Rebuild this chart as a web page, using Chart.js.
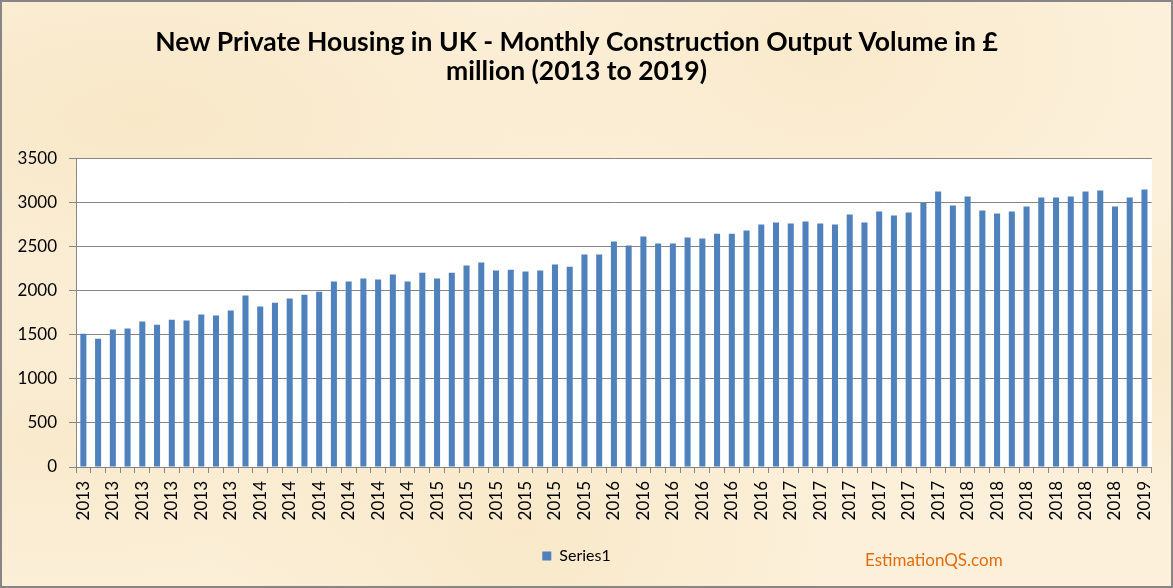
<!DOCTYPE html>
<html>
<head>
<meta charset="utf-8">
<script src="https://cdn.jsdelivr.net/npm/chart.js@4.4.1/dist/chart.umd.min.js"></script>
<style>
  html, body { margin: 0; padding: 0; }
  #wrap {
    position: relative;
    width: 1173px;
    height: 588px;
    overflow: hidden;
    background-color: #fcf0da;
    background-image:
      radial-gradient(ellipse at 12% 20%, rgba(245, 225, 185, 0.55), transparent 35%),
      radial-gradient(ellipse at 70% 10%, rgba(248, 230, 195, 0.6), transparent 30%),
      radial-gradient(ellipse at 45% 90%, rgba(246, 228, 190, 0.6), transparent 35%),
      radial-gradient(ellipse at 92% 60%, rgba(245, 226, 188, 0.5), transparent 30%),
      radial-gradient(ellipse at 5% 75%, rgba(247, 230, 196, 0.6), transparent 30%);
  }
  #frame {
    position: absolute;
    left: 0; top: 0; right: 0; bottom: 0;
    border: 2px solid #868686;
    pointer-events: none;
  }
  #site {
    position: absolute;
    left: 865px;
    top: 549px;
    font: 17px Lato, "Open Sans", sans-serif;
    color: #e46c0a;
  }
  canvas { position: absolute; left: 0; top: 0; }
</style>
</head>
<body>
<div id="wrap">
  <canvas id="barChart" width="1173" height="588"></canvas>
  <div id="site">EstimationQS.com</div>
  <div id="frame"></div>
</div>
<script>
// one label per month, Jan 2013 .. Jan 2019
const months = [
  "2013", "2013", "2013", "2013", "2013", "2013", "2013", "2013", "2013", "2013", "2013", "2013",
  "2014", "2014", "2014", "2014", "2014", "2014", "2014", "2014", "2014", "2014", "2014", "2014",
  "2015", "2015", "2015", "2015", "2015", "2015", "2015", "2015", "2015", "2015", "2015", "2015",
  "2016", "2016", "2016", "2016", "2016", "2016", "2016", "2016", "2016", "2016", "2016", "2016",
  "2017", "2017", "2017", "2017", "2017", "2017", "2017", "2017", "2017", "2017", "2017", "2017",
  "2018", "2018", "2018", "2018", "2018", "2018", "2018", "2018", "2018", "2018", "2018", "2018",
  "2019",
];

// output volume, £ million
const series1 = [
  1515, 1458, 1561, 1572, 1652, 1617, 1674, 1663, 1731, 1720, 1777, 1947,
  1822, 1867, 1913, 1958, 1992, 2106, 2106, 2140, 2129, 2186, 2106, 2208,
  2140, 2208, 2288, 2322, 2231, 2242, 2220, 2231, 2299, 2276, 2413, 2413,
  2561, 2515, 2617, 2538, 2538, 2606, 2595, 2651, 2651, 2686, 2754, 2776,
  2765, 2788, 2765, 2754, 2867, 2776, 2902, 2856, 2890, 3000, 3129, 2970,
  3072, 2913, 2879, 2902, 2958, 3061, 3061, 3072, 3129, 3140, 2958, 3061,
  3152,
];

const yTicks = [0, 500, 1000, 1500, 2000, 2500, 3000, 3500];

const titleLines = [
  "New Private Housing in UK - Monthly Construction Output Volume in £",
  "million (2013 to 2019)",
];

const gridGrey = "#868686";

// white plot area on top of the parchment background
const plotBackground = {
  id: "plotBackground",
  beforeDraw(chart) {
    const { ctx, chartArea } = chart;
    ctx.save();
    ctx.fillStyle = "#ffffff";
    ctx.fillRect(chartArea.left, chartArea.top, chartArea.right - chartArea.left, chartArea.bottom - chartArea.top);
    ctx.restore();
  },
};

const ctx = document.getElementById("barChart");

new Chart(ctx, {
  type: "bar",
  data: {
    labels: months,
    datasets: [
      {
        label: "Series1",
        data: series1,
        backgroundColor: "#4f81bd",
        borderWidth: 0,
        barPercentage: 0.41,
        categoryPercentage: 1,
      },
    ],
  },
  options: {
    responsive: false,
    animation: false,
    layout: {
      padding: { left: 0, right: 20, top: 0, bottom: 14 },
    },
    scales: {
      x: {
        afterFit: (scale) => {
          scale.height = 71;
        },
        grid: {
          offset: true,
          drawOnChartArea: false,
          drawTicks: true,
          tickLength: 6,
          color: gridGrey,
        },
        border: { display: true, color: gridGrey },
        ticks: {
          autoSkip: false,
          minRotation: 90,
          maxRotation: 90,
          padding: 8,
          color: "#000000",
          font: { family: "Lato", size: 17 },
          callback: function (value, index) {
            return index % 2 === 0 ? this.getLabelForValue(value) : "";
          },
        },
      },
      y: {
        min: 0,
        max: 3500,
        afterFit: (scale) => {
          scale.width = 76;
        },
        afterBuildTicks: (scale) => {
          scale.ticks = yTicks.map((v) => ({ value: v }));
        },
        grid: {
          color: gridGrey,
          drawTicks: true,
          tickLength: 7,
        },
        border: { display: true, color: gridGrey },
        ticks: {
          padding: 12,
          color: "#000000",
          font: { family: "Lato", size: 17 },
          callback: (value) => String(value),
        },
      },
    },
    plugins: {
      title: {
        display: true,
        text: titleLines,
        color: "#000000",
        font: { family: "Lato", size: 26.5, weight: "bold", lineHeight: 1.13 },
        padding: { top: 27, bottom: 72 },
      },
      legend: {
        position: "bottom",
        labels: {
          boxWidth: 9,
          boxHeight: 9,
          padding: 10,
          color: "#000000",
          font: { family: "Lato", size: 16 },
        },
      },
      tooltip: { enabled: false },
    },
  },
  plugins: [plotBackground],
});
</script>
</body>
</html>
